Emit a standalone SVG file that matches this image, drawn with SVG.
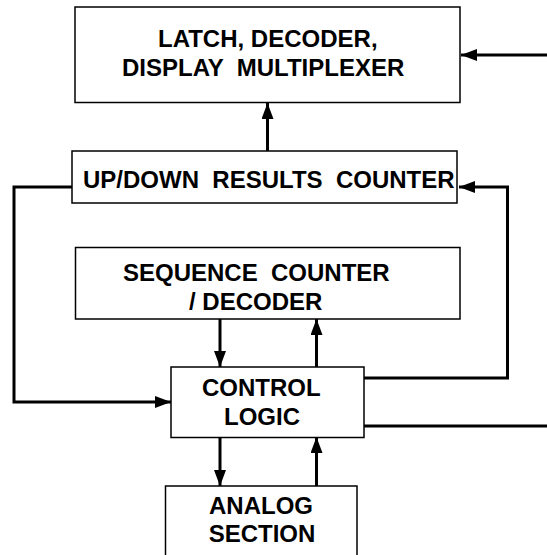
<svg xmlns="http://www.w3.org/2000/svg" width="547" height="555" viewBox="0 0 547 555">
<style>
.box{fill:#fff;stroke:#000;stroke-width:1.5}
.lbl{font-family:"Liberation Sans",Arial,sans-serif;font-weight:bold;font-size:24px;fill:#000}
.wire{fill:none;stroke:#000;stroke-width:3}
</style>
<defs>
<marker id="ah" viewBox="0 0 16 12" markerUnits="userSpaceOnUse" markerWidth="16" markerHeight="12" refX="16" refY="6" orient="auto">
<path d="M0,0 L16,6 L0,12 z" fill="#000"/>
</marker>
</defs>
<rect width="547" height="555" fill="#fff"/>
<g id="connectors">
<line class="wire" x1="547" y1="55" x2="461" y2="55" marker-end="url(#ah)"/>
<line class="wire" x1="267.5" y1="151" x2="267.5" y2="103" marker-end="url(#ah)"/>
<polyline class="wire" points="72,187 14,187 14,402 171,402" marker-end="url(#ah)"/>
<polyline class="wire" points="364,378 507.5,378 507.5,187 459,187" marker-end="url(#ah)"/>
<line class="wire" x1="364" y1="426" x2="547" y2="426"/>
<line class="wire" x1="220" y1="319" x2="220" y2="367" marker-end="url(#ah)"/>
<line class="wire" x1="316.5" y1="367" x2="316.5" y2="319" marker-end="url(#ah)"/>
<line class="wire" x1="220" y1="437" x2="220" y2="486" marker-end="url(#ah)"/>
<line class="wire" x1="316.5" y1="486" x2="316.5" y2="437" marker-end="url(#ah)"/>
</g>
<g id="latch">
<rect class="box" x="75" y="7" width="385" height="95.5"/>
<text class="lbl" x="158" y="47" xml:space="preserve">LATCH, DECODER,</text>
<text class="lbl" x="122" y="76" xml:space="preserve">DISPLAY  MULTIPLEXER</text>
</g>
<g id="results">
<rect class="box" x="72" y="151" width="385" height="52"/>
<text class="lbl" x="83" y="187.5" xml:space="preserve">UP/DOWN  RESULTS  COUNTER</text>
</g>
<g id="sequence">
<rect class="box" x="75.5" y="247.5" width="384.5" height="71.5"/>
<text class="lbl" x="123" y="281" xml:space="preserve">SEQUENCE  COUNTER</text>
<text class="lbl" x="189" y="310" xml:space="preserve">/ DECODER</text>
</g>
<g id="control">
<rect class="box" x="171" y="367" width="193" height="70.5"/>
<text class="lbl" x="202" y="396">CONTROL</text>
<text class="lbl" x="224" y="424.5">LOGIC</text>
</g>
<g id="analog">
<rect class="box" x="165.5" y="486" width="191.5" height="90"/>
<text class="lbl" x="261" y="513.5" text-anchor="middle">ANALOG</text>
<text class="lbl" x="262" y="542" text-anchor="middle">SECTION</text>
</g>
</svg>
